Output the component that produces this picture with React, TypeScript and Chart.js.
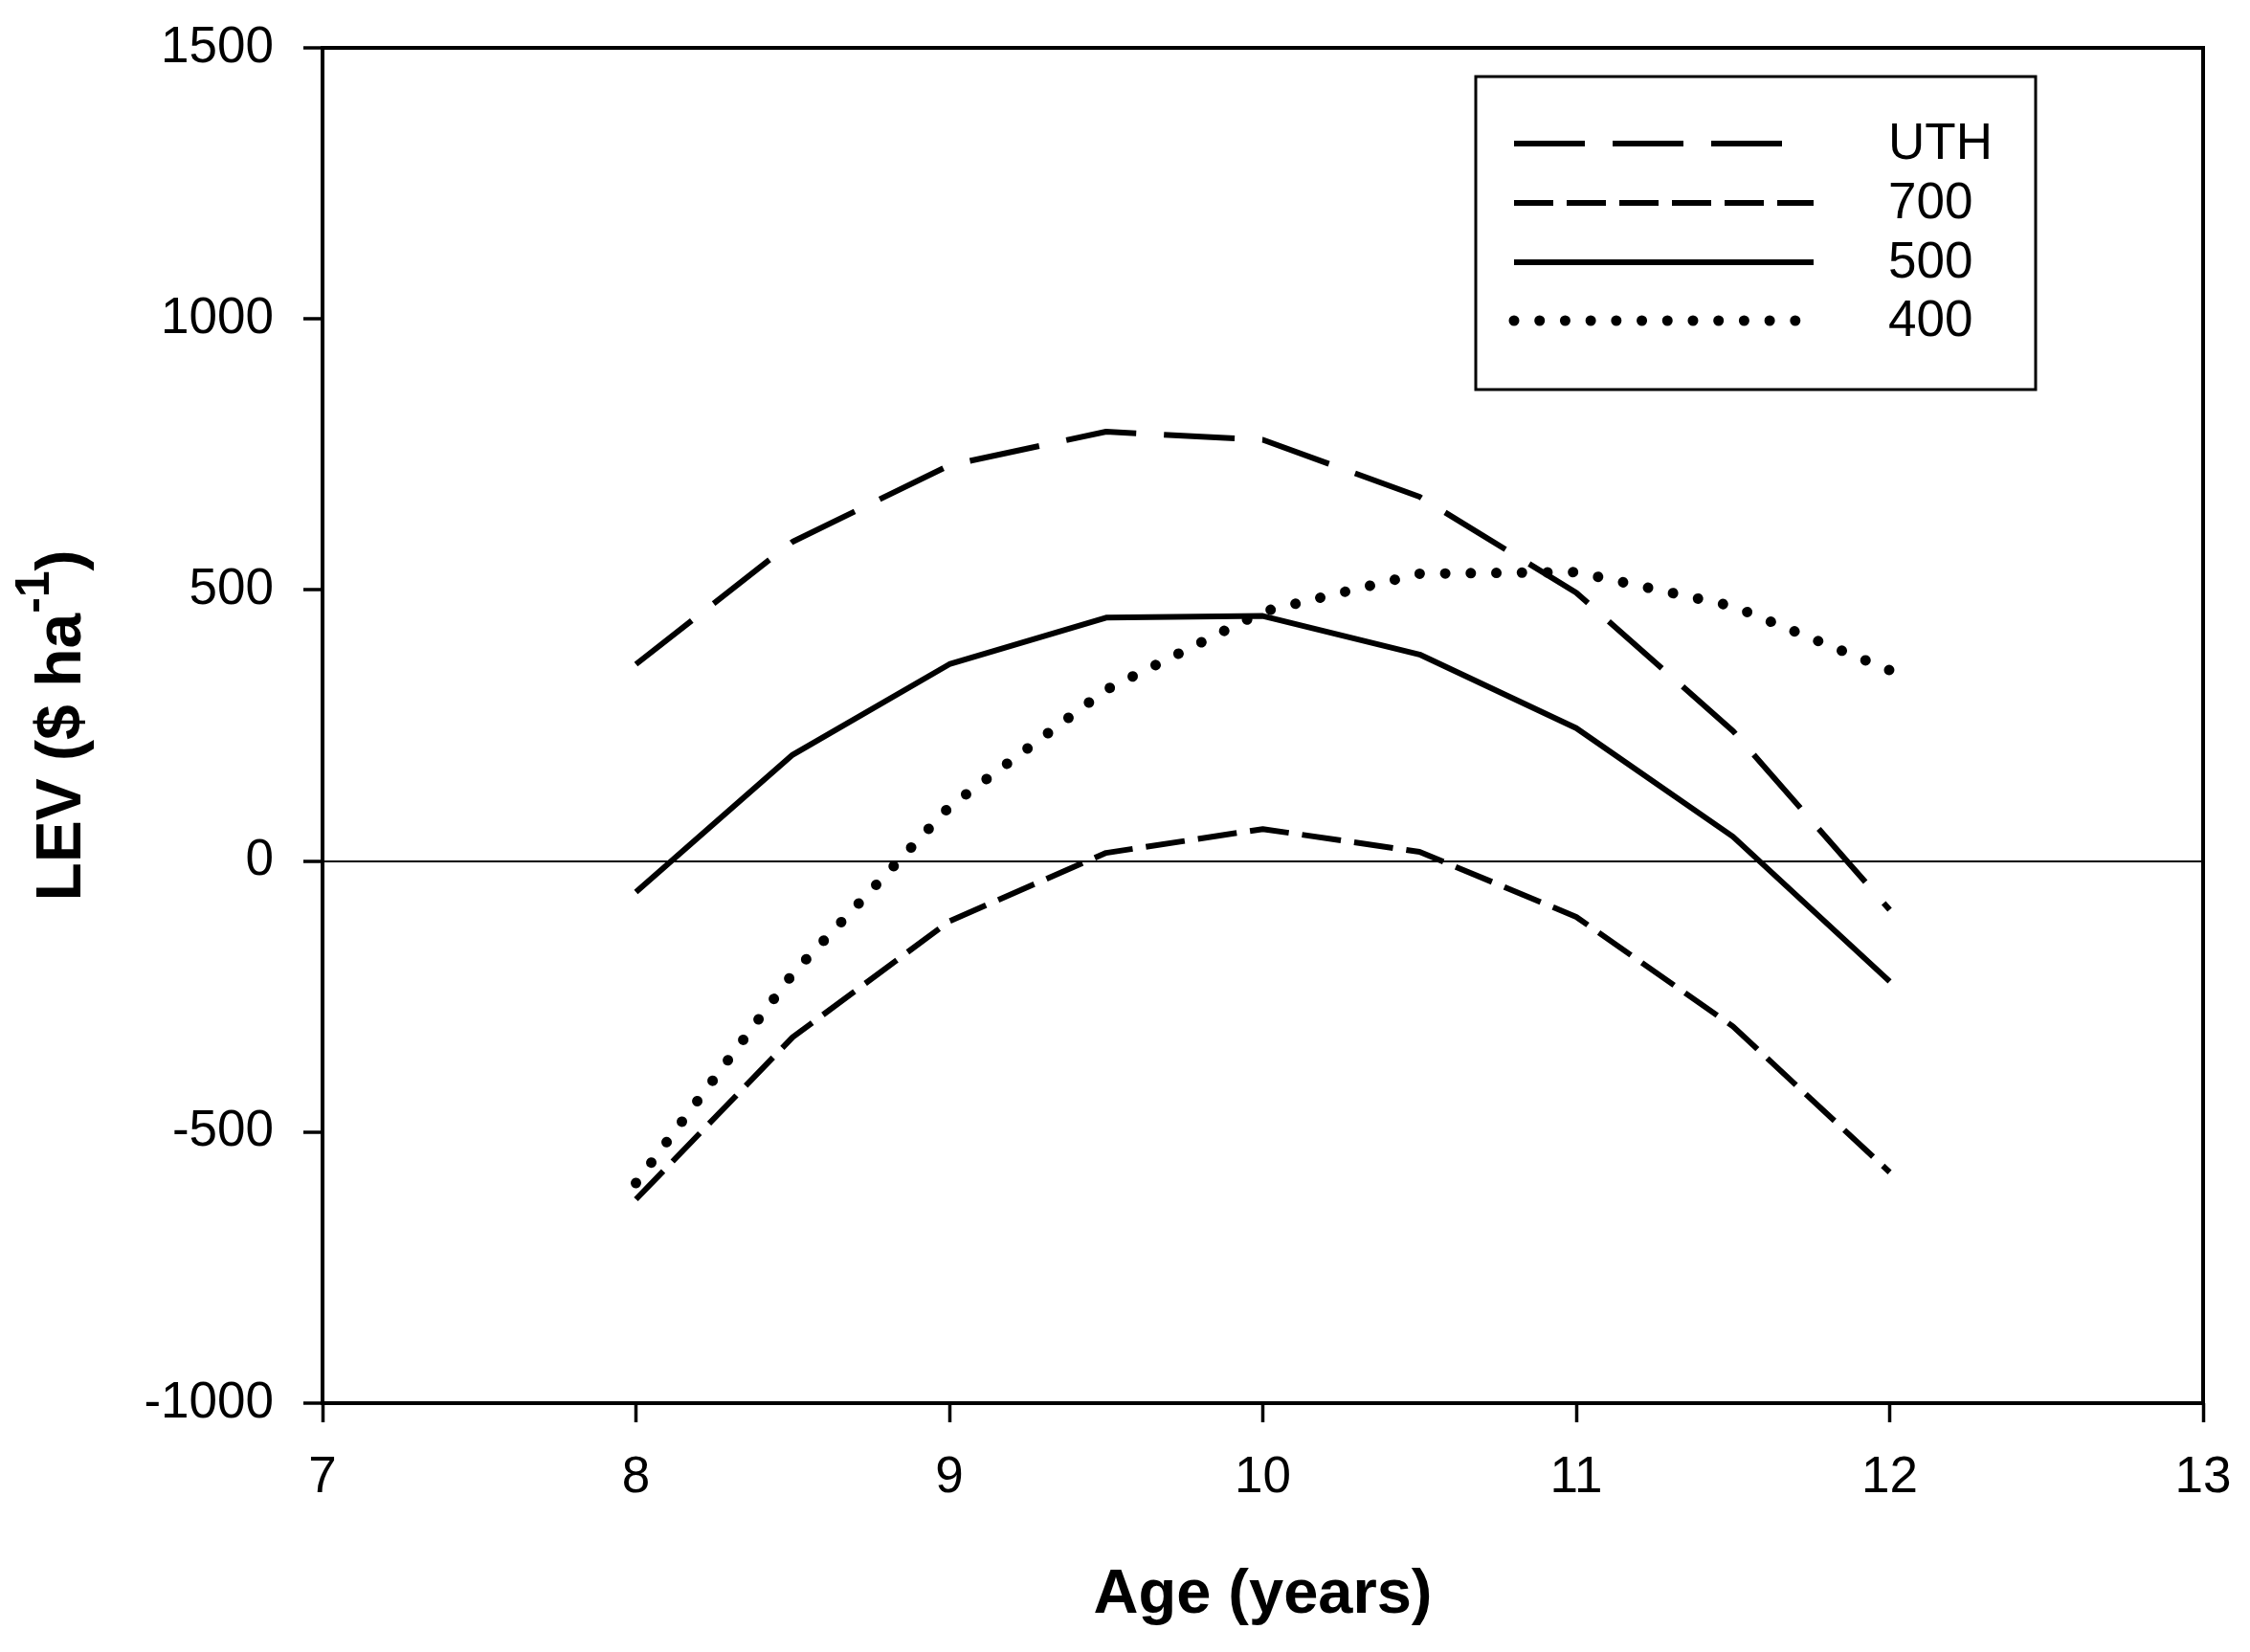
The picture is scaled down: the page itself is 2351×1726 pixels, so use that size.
import { useEffect, useRef } from 'react';
import { Chart, registerables } from 'chart.js';

Chart.register(...registerables);

const ages = [8, 8.5, 9, 9.5, 10, 10.5, 11, 11.5, 12];
const uth = [363, 589, 730, 792, 777, 672, 495, 240, -90];
const d700 = [-624, -325, -111, 15, 59, 17, -103, -305, -574];
const d500 = [-57, 196, 363, 449, 452, 381, 245, 45, -222];
const d400 = [-594, -208, 100, 316, 460, 530, 533, 470, 352];
const seriesLabels = ['UTH', '700', '500', '400'];
const xTicks = [7, 8, 9, 10, 11, 12, 13];
const yTicks = [-1000, -500, 0, 500, 1000, 1500];

const FONT = '"Liberation Sans", Arial, sans-serif';

// frame round the plot area
const framePlugin = {
  id: 'frame',
  afterDraw(chart: any) {
    const { ctx, chartArea } = chart;
    ctx.save();
    ctx.strokeStyle = '#000';
    ctx.lineWidth = 4;
    ctx.strokeRect(chartArea.left, chartArea.top, chartArea.right - chartArea.left, chartArea.bottom - chartArea.top);
    ctx.restore();
  },
};

// y title with a superscript
const yTitlePlugin = {
  id: 'yTitle',
  afterDraw(chart: any) {
    const { ctx } = chart;
    const main = 'LEV ($ ha';
    const sup = '-1';
    const close = ')';
    ctx.save();
    ctx.translate(84, 758);
    ctx.rotate(-Math.PI / 2);
    ctx.fillStyle = '#000';
    ctx.textBaseline = 'alphabetic';
    ctx.textAlign = 'left';
    ctx.font = `bold 66px ${FONT}`;
    const wMain = ctx.measureText(main).width;
    const wClose = ctx.measureText(close).width;
    ctx.font = `bold 50px ${FONT}`;
    const wSup = ctx.measureText(sup).width;
    let x = -(wMain + wSup + wClose) / 2;
    ctx.font = `bold 66px ${FONT}`;
    ctx.fillText(main, x, 0);
    x += wMain;
    ctx.font = `bold 50px ${FONT}`;
    ctx.fillText(sup, x, -33);
    x += wSup;
    ctx.font = `bold 66px ${FONT}`;
    ctx.fillText(close, x, 0);
    ctx.restore();
  },
};

// boxed legend inside the plot
const legendRows = [150, 212, 274, 335];
const legendEnds = [1866, 1895, 1895, 1876];
const legendPlugin = {
  id: 'boxLegend',
  afterDraw(chart: any) {
    const { ctx } = chart;
    ctx.save();
    ctx.strokeStyle = '#000';
    ctx.lineWidth = 3;
    ctx.strokeRect(1542, 80, 585, 327);
    chart.data.datasets.forEach((ds: any, i: number) => {
      const y = legendRows[i];
      ctx.beginPath();
      ctx.setLineDash(ds.borderDash || []);
      ctx.lineCap = ds.borderCapStyle || 'butt';
      ctx.lineWidth = ds.borderWidth;
      ctx.strokeStyle = '#000';
      ctx.moveTo(1582, y);
      ctx.lineTo(legendEnds[i], y);
      ctx.stroke();
      ctx.setLineDash([]);
      ctx.fillStyle = '#000';
      ctx.font = `53px ${FONT}`;
      ctx.textBaseline = 'middle';
      ctx.textAlign = 'left';
      ctx.fillText(ds.label, 1973, y + 1);
    });
    ctx.restore();
  },
};

export default function App() {
  const canvasRef = useRef<HTMLCanvasElement>(null);
  const chartRef = useRef<Chart>();

  useEffect(() => {
    if (!canvasRef.current) return;
    const ctx = canvasRef.current.getContext('2d');
    if (!ctx) return;
    chartRef.current?.destroy();

    const toPoints = (vals: number[]) => ages.map((a, i) => ({ x: a, y: vals[i] }));
    const base = { borderColor: '#000', pointRadius: 0, tension: 0, fill: false, borderJoinStyle: 'round' as const };

    chartRef.current = new Chart(ctx, {
      type: 'line',
      data: {
        datasets: [
          { ...base, label: seriesLabels[0], data: toPoints(uth), borderWidth: 6, borderDash: [74, 29] },
          { ...base, label: seriesLabels[1], data: toPoints(d700), borderWidth: 6, borderDash: [41, 14] },
          { ...base, label: seriesLabels[2], data: toPoints(d500), borderWidth: 6 },
          { ...base, label: seriesLabels[3], data: toPoints(d400), borderWidth: 11, borderDash: [0.01, 26.7], borderCapStyle: 'round' },
        ],
      },
      options: {
        animation: false,
        responsive: true,
        maintainAspectRatio: false,
        layout: { padding: { top: 50, right: 49, left: 0, bottom: 0 } },
        plugins: {
          legend: { display: false },
          tooltip: { enabled: false },
        },
        scales: {
          x: {
            type: 'linear',
            min: 7,
            max: 13,
            afterBuildTicks: (s: any) => { s.ticks = xTicks.map(v => ({ value: v })); },
            afterFit: (s: any) => { s.height = 260; s.paddingLeft = 0; s.paddingRight = 0; },
            border: { display: false },
            grid: { drawOnChartArea: false, tickLength: 20, tickWidth: 3.5, tickColor: '#000' },
            ticks: {
              color: '#000',
              padding: 27,
              font: { family: FONT, size: 53 },
              maxRotation: 0,
              callback: (v: any) => String(v),
            },
            title: {
              display: true,
              text: 'Age (years)',
              color: '#000',
              font: { family: FONT, size: 65, weight: 'bold' },
              padding: { top: 0, bottom: 20 },
            },
          },
          y: {
            type: 'linear',
            min: -1000,
            max: 1500,
            afterBuildTicks: (s: any) => { s.ticks = yTicks.map(v => ({ value: v })); },
            afterFit: (s: any) => { s.width = 337; s.paddingTop = 0; s.paddingBottom = 0; },
            border: { display: false },
            grid: {
              color: (c: any) => (c.tick && c.tick.value === 0 ? '#000' : 'rgba(0,0,0,0)'),
              lineWidth: 2,
              tickLength: 20,
              tickWidth: 3.5,
              tickColor: '#000',
            },
            ticks: {
              color: '#000',
              padding: 31,
              font: { family: FONT, size: 53 },
              callback: (v: any) => String(v),
            },
          },
        },
      },
      plugins: [framePlugin, yTitlePlugin, legendPlugin],
    });

    return () => {
      chartRef.current?.destroy();
    };
  }, []);

  return (
    <div style={{ position: 'fixed', left: 0, top: 0, width: 2351, height: 1726, background: '#fff' }}>
      <canvas ref={canvasRef} />
    </div>
  );
}
